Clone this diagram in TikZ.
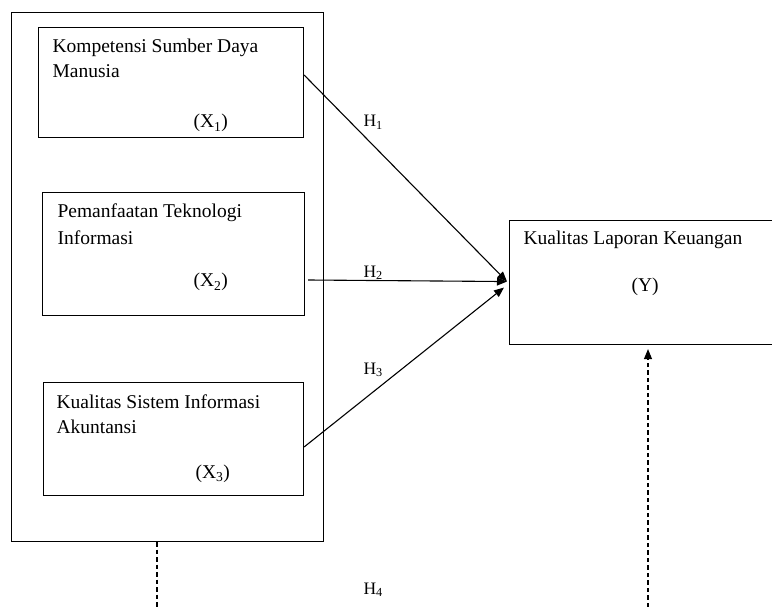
\documentclass[tikz,border=0pt]{standalone}
\usepackage{fontspec}
\setmainfont{Liberation Serif}
\usetikzlibrary{arrows.meta,calc}
\begin{document}
\begin{tikzpicture}[x=1pt,y=-1pt,
  line width=1.1pt,
  frame/.style={draw, rectangle, inner sep=0pt, anchor=north west},
  label/.style={inner sep=0pt, anchor=base west, font=\fontsize{19.5}{25}\selectfont},
  hlabel/.style={inner sep=0pt, anchor=base west, font=\fontsize{17.5}{20}\selectfont},
  link/.style={-{Triangle[length=10pt,width=8pt]}},
  dashlink/.style={dash pattern=on 4.5pt off 3pt}]
\useasboundingbox (0,0) rectangle (772,607);

% variable boxes
\node[frame, minimum width=312, minimum height=529] (outer) at (11,12) {};
\node[frame, minimum width=265, minimum height=110] (x1) at (38,27) {};
\node[frame, minimum width=262, minimum height=123] (x2) at (42,192) {};
\node[frame, minimum width=260, minimum height=113] (x3) at (43,382) {};
\node[frame, minimum width=270, minimum height=124] (y) at (509,220) {};

% box texts
\node[label] (t1a) at (52,53) {Kompetensi Sumber Daya};
\node[label] (t1b) at (52,78) {Manusia};
\node[label] (t1c) at (193,128) {(X\textsubscript{1})};
\node[label] (t2a) at (57,218) {Pemanfaatan Teknologi};
\node[label] (t2b) at (57,244) {Informasi};
\node[label] (t2c) at (193,287) {(X\textsubscript{2})};
\node[label] (t3a) at (56,408) {Kualitas Sistem Informasi};
\node[label] (t3b) at (56,433) {Akuntansi};
\node[label] (t3c) at (195,478) {(X\textsubscript{3})};
\node[label] (tya) at (523,245) {Kualitas Laporan Keuangan};
\node[label] (tyb) at (631,291) {(Y)};

% hypothesis labels
\node[hlabel] (h1) at (363,127) {H\textsubscript{1}};
\node[hlabel] (h2) at (363,277) {H\textsubscript{2}};
\node[hlabel] (h3) at (363,374) {H\textsubscript{3}};
\node[hlabel] (h4) at (363,594) {H\textsubscript{4}};

% partial effects
\coordinate (yin) at ($(y.west)+(-2,-1)$);
\draw[link] ($(x1.north east)+(0,48)$) -- (yin);
\draw[link] ($(x2.north east)+(3,88)$) -- (yin);
\draw[link] ($(x3.north east)+(0,65)$) -- ($(y.west)+(-5,5)$);

% simultaneous effect
\coordinate (lb) at (157,607);
\coordinate (rb) at (648,607);
\draw[dashlink] (lb |- outer.south) -- (lb);
\draw[dashlink, -{Triangle[length=10pt,width=8pt]}, shorten >=4pt] (rb) -- (rb |- y.south);
\end{tikzpicture}
\end{document}
